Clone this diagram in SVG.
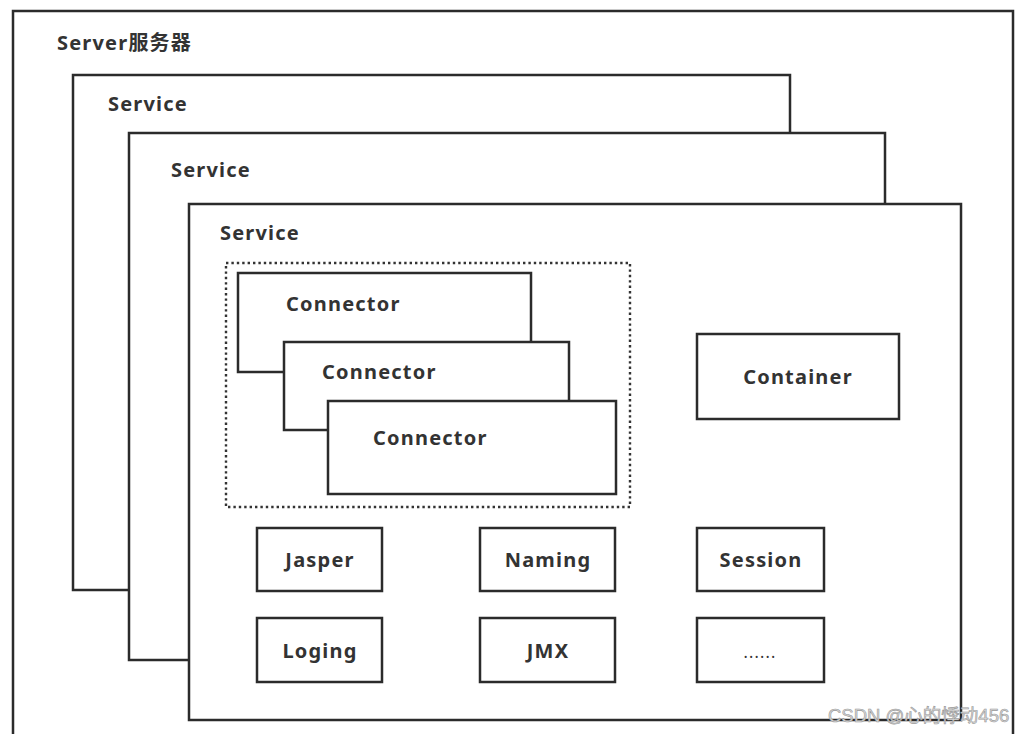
<svg xmlns="http://www.w3.org/2000/svg" width="1031" height="734" viewBox="0 0 1031 734">
<style>
.box{fill:#fff;stroke:#2b2b2b;stroke-width:2.5}
.lbl{font-family:"Noto Sans","Noto Sans CJK SC",sans-serif;font-weight:bold;font-size:20px;letter-spacing:1.2px;fill:#333}
.ctr{text-anchor:middle}
.dot{fill:none;stroke:#333;stroke-width:2.4;stroke-dasharray:2.4 3}
.wm{font-family:"Liberation Sans","Noto Sans CJK SC",sans-serif;font-size:18.5px;fill:#d8d8d8;stroke:#9a9a9a;stroke-width:0.6}
</style>
<rect width="1031" height="734" fill="#fff"/>
<g id="server">
<rect class="box" x="13" y="11" width="1000" height="740"/>
<text class="lbl" x="57" y="50">Server服务器</text>
</g>
<g id="service1">
<rect class="box" x="73" y="75" width="717" height="515"/>
<text class="lbl" x="108" y="111">Service</text>
</g>
<g id="service2">
<rect class="box" x="129" y="133" width="756" height="527"/>
<text class="lbl" x="171" y="177">Service</text>
</g>
<g id="service3">
<rect class="box" x="189" y="204" width="772" height="516"/>
<text class="lbl" x="220" y="240">Service</text>
</g>
<g id="connectors-group">
<rect class="dot" x="226" y="263" width="404" height="244"/>
</g>
<g id="connector1">
<rect class="box" x="238" y="273" width="293" height="99"/>
<text class="lbl" x="286" y="311">Connector</text>
</g>
<g id="connector2">
<rect class="box" x="284" y="342" width="285" height="88"/>
<text class="lbl" x="322" y="379">Connector</text>
</g>
<g id="connector3">
<rect class="box" x="328" y="401" width="288" height="93"/>
<text class="lbl" x="373" y="445">Connector</text>
</g>
<g id="container">
<rect class="box" x="697" y="334" width="202" height="85"/>
<text class="lbl ctr" x="798" y="384">Container</text>
</g>
<g id="jasper">
<rect class="box" x="257" y="528" width="125" height="63"/>
<text class="lbl ctr" x="320" y="567">Jasper</text>
</g>
<g id="naming">
<rect class="box" x="480" y="528" width="135" height="63"/>
<text class="lbl ctr" x="548" y="567">Naming</text>
</g>
<g id="session">
<rect class="box" x="697" y="528" width="127" height="63"/>
<text class="lbl ctr" x="761" y="567">Session</text>
</g>
<g id="loging">
<rect class="box" x="257" y="618" width="125" height="64"/>
<text class="lbl ctr" x="320" y="658">Loging</text>
</g>
<g id="jmx">
<rect class="box" x="480" y="618" width="135" height="64"/>
<text class="lbl ctr" x="548" y="658">JMX</text>
</g>
<g id="more">
<rect class="box" x="697" y="618" width="127" height="64"/>
<text class="lbl ctr" x="760" y="658" style="font-weight:normal;font-size:16px">......</text>
</g>
<g id="connectors"></g>
<text class="wm" x="828" y="722">CSDN @心的悸动456</text>
</svg>
